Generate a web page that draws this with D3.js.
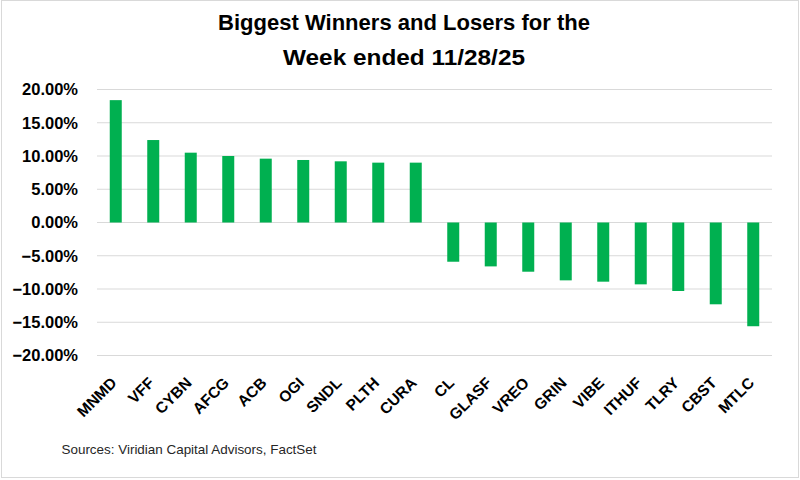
<!DOCTYPE html>
<html>
<head>
<meta charset="utf-8">
<script src="https://cdn.jsdelivr.net/npm/d3@7"></script>
<style>
  html, body { margin: 0; padding: 0; background: #fff; }
  svg { display: block; }
</style>
</head>
<body>
<svg id="chart" width="800" height="480"></svg>
<script>
const categories = ["MNMD","VFF","CYBN","AFCG","ACB","OGI","SNDL","PLTH","CURA","CL","GLASF","VREO","GRIN","VIBE","ITHUF","TLRY","CBST","MTLC"];
const values = [18.4, 12.4, 10.5, 10.0, 9.6, 9.4, 9.2, 9.0, 9.0, -5.9, -6.6, -7.4, -8.7, -8.9, -9.3, -10.3, -12.3, -15.6];
const yTicks = [20, 15, 10, 5, 0, -5, -10, -15, -20];
const titleLines = ["Biggest Winners and Losers for the", "Week ended 11/28/25"];
const sourceText = "Sources: Viridian Capital Advisors, FactSet";

const svg = d3.select("#chart");
const W = 800, H = 480;
const margin = {left: 97, right: 28, top: 89.5, bottom: 124.5};

// outer border
svg.append("rect").attr("x", 1.5).attr("y", 0.5).attr("width", W - 3).attr("height", H - 3)
  .attr("fill", "#fff").attr("stroke", "#d9d9d9").attr("stroke-width", 1);

const x = d3.scaleBand().domain(categories).range([margin.left, W - margin.right]).paddingInner(0.68).paddingOuter(0.34);
const y = d3.scaleLinear().domain([-20, 20]).range([H - margin.bottom, margin.top]);

// gridlines
svg.append("g").selectAll("line").data(yTicks).join("line")
  .attr("x1", margin.left).attr("x2", W - margin.right)
  .attr("y1", d => y(d)).attr("y2", d => y(d))
  .attr("stroke", "#d9d9d9").attr("stroke-width", 1);

// bars
svg.append("g").selectAll("rect").data(values).join("rect")
  .attr("x", (d, i) => x(categories[i]))
  .attr("width", x.bandwidth())
  .attr("y", d => y(Math.max(0, d)))
  .attr("height", d => Math.abs(y(d) - y(0)))
  .attr("fill", "#00b050");

// y axis labels
const yAxis = d3.axisLeft(y).tickValues(yTicks).tickSize(0).tickPadding(0)
  .tickFormat(d => d3.format(".2f")(d) + "%");
const gy = svg.append("g").attr("transform", `translate(${margin.left - 19},0)`).call(yAxis);
gy.select(".domain").remove();
gy.selectAll("text")
  .attr("font-family", "Liberation Sans, Arial, sans-serif")
  .attr("font-weight", "bold").attr("font-size", "16.5px").attr("fill", "#000");

// x axis labels
const xAxis = d3.axisBottom(x).tickSize(0).tickPadding(0);
const gx = svg.append("g").attr("transform", `translate(0,${H - margin.bottom})`).call(xAxis);
gx.select(".domain").remove();
gx.selectAll("text")
  .attr("font-family", "Liberation Sans, Arial, sans-serif")
  .attr("font-weight", "bold").attr("font-size", "15.5px").attr("fill", "#000")
  .attr("text-anchor", "end")
  .attr("dy", "0.35em")
  .attr("transform", "translate(-2,24.5) rotate(-45)");

// title
const tl = [372, 242];
svg.append("text").attr("text-anchor", "middle")
  .attr("font-family", "Liberation Sans, Arial, sans-serif")
  .attr("font-weight", "bold").attr("font-size", "21.5px").attr("fill", "#000")
  .selectAll("tspan").data(titleLines).join("tspan")
  .attr("x", 404).attr("y", (d, i) => 30 + i * 34.5)
  .attr("textLength", (d, i) => tl[i]).attr("lengthAdjust", "spacingAndGlyphs")
  .text(d => d);

// source
svg.append("text").attr("x", 61.5).attr("y", 454)
  .attr("font-family", "Liberation Sans, Arial, sans-serif")
  .attr("font-size", "13.5px").attr("fill", "#262626")
  .attr("textLength", 255).attr("lengthAdjust", "spacingAndGlyphs")
  .text(sourceText);
</script>
</body>
</html>
